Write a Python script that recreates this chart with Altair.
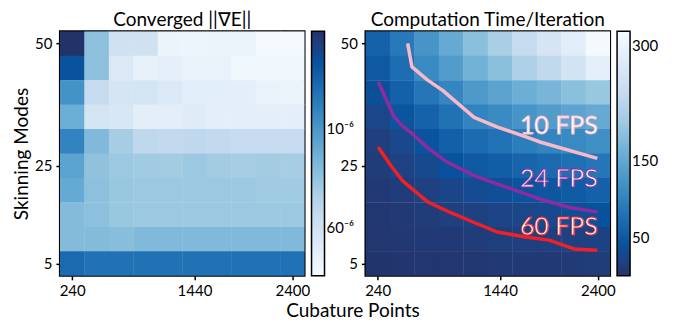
import altair as alt
import pandas as pd

# ---------------- data ----------------
cubature_points = [240, 480, 720, 960, 1200, 1440, 1680, 1920, 2160, 2400]
skinning_modes = [50, 45, 40, 35, 30, 25, 20, 15, 10, 5]   # rows, top to bottom

# Converged gradient norm (x10^-6), rows follow skinning_modes
grad_norm = [
    [1.7, 22.2, 59, 59, 110, 115, 110, 110, 137, 137],
    [3.0, 22.2, 77, 100, 96, 105, 105, 120, 120, 120],
    [9.2, 47.3, 67.4, 64.4, 77, 88, 88, 92, 105, 110],
    [15.6, 64.4, 70.4, 92, 92, 84, 92, 92, 92, 92],
    [7.0, 19.5, 30.3, 43.2, 45.2, 43.2, 45.2, 47.3, 47.3, 47.3],
    [12.5, 23.2, 26.6, 27.8, 29.0, 26.6, 29.0, 30.3, 29.0, 30.3],
    [14.3, 22.2, 25.4, 26.6, 26.6, 26.6, 26.6, 26.6, 27.8, 27.8],
    [20.3, 22.2, 25.4, 26.6, 26.6, 26.6, 26.6, 26.6, 26.6, 26.6],
    [20.3, 20.3, 21.3, 19.5, 19.5, 19.5, 19.5, 19.5, 19.5, 19.5],
    [4.5, 5.15, 5.15, 5.15, 5.15, 5.15, 5.15, 5.15, 5.15, 5.15],
]

# Computation time per iteration (ms), rows follow skinning_modes
time_ms = [
    [62, 90, 125, 155, 185, 210, 240, 265, 285, 315],
    [50, 75, 110, 135, 165, 185, 215, 235, 260, 290],
    [38, 60, 85, 105, 130, 145, 160, 170, 185, 195],
    [26, 45, 62, 80, 102, 112, 125, 135, 145, 155],
    [17, 28, 44, 58, 72, 82, 95, 103, 110, 118],
    [12, 20, 30, 40, 50, 56, 64, 70, 77, 85],
    [9, 13, 19, 25, 32, 36, 43, 48, 52, 60],
    [6, 10, 12, 16, 19, 23, 26, 29, 36, 40],
    [4, 7, 9, 10, 12, 15, 16, 17.5, 19, 21],
    [2, 3, 4, 5, 6, 8, 9, 10, 11, 12],
]

fps10_x = [534, 576, 730, 877, 1186, 1416, 1709, 1840, 2395]
fps10_y = [50.0, 45.2, 42.5, 40.4, 34.9, 32.9, 30.8, 29.8, 26.5]
fps24_x = [246, 321, 403, 485, 583, 723, 926, 1186, 1513, 1840, 2134, 2395]
fps24_y = [42.1, 38.7, 34.9, 33.1, 31.5, 28.8, 25.7, 23.0, 20.55, 18.15, 16.4, 15.55]
fps60_x = [246, 370, 485, 730, 958, 1186, 1416, 1676, 1921, 2166, 2395]
fps60_y = [28.8, 25.0, 21.9, 17.6, 15.4, 13.4, 11.45, 10.5, 9.8, 8.0, 7.75]

fps_names = ["10 FPS", "24 FPS", "60 FPS"]
fps_label_x = [2400, 2400, 2400]
fps_label_y = [31.4, 20.6, 10.9]

x_ticks = [240, 1440, 2400]
y_ticks = [5, 25, 50]
grad_ticks = [10, 60]
grad_tick_labels = ["10⁻⁶", "60⁻⁶"]
time_ticks = [50, 150, 300]

# ---------------- styles ----------------
FONT = "Lato"
blues = ["#22336a", "#08519c", "#2171b5", "#4292c6", "#6baed6",
         "#9ecae1", "#c6dbef", "#deebf7", "#f7fbff"]
fps_colors = ["#f8b9c9", "#8e2b9e", "#ef2027"]
half_dx = (cubature_points[1] - cubature_points[0]) / 2
half_dy = (skinning_modes[0] - skinning_modes[1]) / 2
OVERLAP = 1.03  # cells drawn a hair larger so neighbours overlap (no seams)


def grid_frame(values):
    rows = []
    for r, m in enumerate(skinning_modes):
        for c, p in enumerate(cubature_points):
            rows.append({"cp": p, "sm": m, "v": values[r][c]})
    df = pd.DataFrame(rows)
    df["cp0"] = df["cp"] - half_dx
    df["cp1"] = df["cp"] + half_dx * OVERLAP
    df["sm0"] = df["sm"] - half_dy * OVERLAP
    df["sm1"] = df["sm"] + half_dy
    return df


xs = alt.Scale(domain=[cubature_points[0] - half_dx, cubature_points[-1] + half_dx], nice=False, zero=False)
ys = alt.Scale(domain=[skinning_modes[-1] - half_dy, skinning_modes[0] + half_dy], nice=False, zero=False)

W = 245
H = 245

# ---------------- left panel ----------------
label_expr = " : ".join(
    [f"datum.value == {v} ? '{t}'" for v, t in zip(grad_ticks[:-1], grad_tick_labels[:-1])]
    + [f"'{grad_tick_labels[-1]}'"])

grad_scale = alt.Scale(type="log", domain=[143, 1.7], range=blues[::-1])
left = alt.Chart(grid_frame(grad_norm)).mark_rect(strokeWidth=0, clip=True).encode(
    x=alt.X("cp0:Q", scale=xs,
            axis=alt.Axis(values=x_ticks, format="d", title="Cubature Points", titleX=293)),
    x2="cp1:Q",
    y=alt.Y("sm0:Q", scale=ys, axis=alt.Axis(values=y_ticks, format="d", title="Skinning Modes")),
    y2="sm1:Q",
    color=alt.Color("v:Q", scale=grad_scale,
                    legend=alt.Legend(values=grad_ticks, labelExpr=label_expr, title=None)),
).properties(width=W, height=H, title="Converged ||∇E||")

# ---------------- right panel ----------------
time_scale = alt.Scale(domain=[0, 320], range=blues)
heat = alt.Chart(grid_frame(time_ms)).mark_rect(strokeWidth=0, clip=True).encode(
    x=alt.X("cp0:Q", scale=xs, axis=alt.Axis(values=x_ticks, format="d", title=None)),
    x2="cp1:Q",
    y=alt.Y("sm0:Q", scale=ys, axis=alt.Axis(values=y_ticks, format="d", title=None)),
    y2="sm1:Q",
    color=alt.Color("v:Q", scale=time_scale,
                    legend=alt.Legend(values=time_ticks, title=None)),
)

layers = [heat]
for xs_, ys_, col in zip([fps10_x, fps24_x, fps60_x], [fps10_y, fps24_y, fps60_y], fps_colors):
    df = pd.DataFrame({"x": xs_, "y": ys_, "i": list(range(len(xs_)))})
    layers.append(alt.Chart(df).mark_line(strokeWidth=3.5, color=col, strokeJoin="round").encode(
        x=alt.X("x:Q", scale=xs), y=alt.Y("y:Q", scale=ys), order="i:Q"))

for name, lx, ly, col in zip(fps_names, fps_label_x, fps_label_y, fps_colors):
    df = pd.DataFrame({"x": [lx], "y": [ly], "t": [name]})
    layers.append(alt.Chart(df).mark_text(
        align="right", baseline="alphabetic", font=FONT, fontSize=25,
        fill="white", stroke=col, strokeWidth=0.8).encode(
        x=alt.X("x:Q", scale=xs), y=alt.Y("y:Q", scale=ys), text="t:N"))

right = alt.layer(*layers).properties(width=W, height=H, title="Computation Time/Iteration")

chart = alt.hconcat(left, right, spacing=61, bounds="flush").resolve_scale(
    color="independent"
).configure_view(
    stroke="black", strokeWidth=2
).configure_axis(
    labelFont=FONT, labelFontSize=15, labelColor="black",
    titleFont=FONT, titleFontSize=19, titleFontWeight="normal", titleColor="black",
    tickColor="black", tickSize=4, tickWidth=1.5, domain=False, grid=False,
    labelPadding=4, titlePadding=3,
).configure_legend(
    gradientLength=H, gradientThickness=13, gradientStrokeColor="black",
    gradientStrokeWidth=1.5, labelFont=FONT, labelFontSize=15, labelColor="black",
    offset=7, padding=0, labelOffset=5, labelOverlap=False,
).configure_title(
    font=FONT, fontSize=19, fontWeight="normal", color="black", offset=1,
).properties(padding={"left": 3, "top": 2, "right": 5, "bottom": 0})

chart.save("out.html", embed_options={"renderer": "svg", "actions": False})
